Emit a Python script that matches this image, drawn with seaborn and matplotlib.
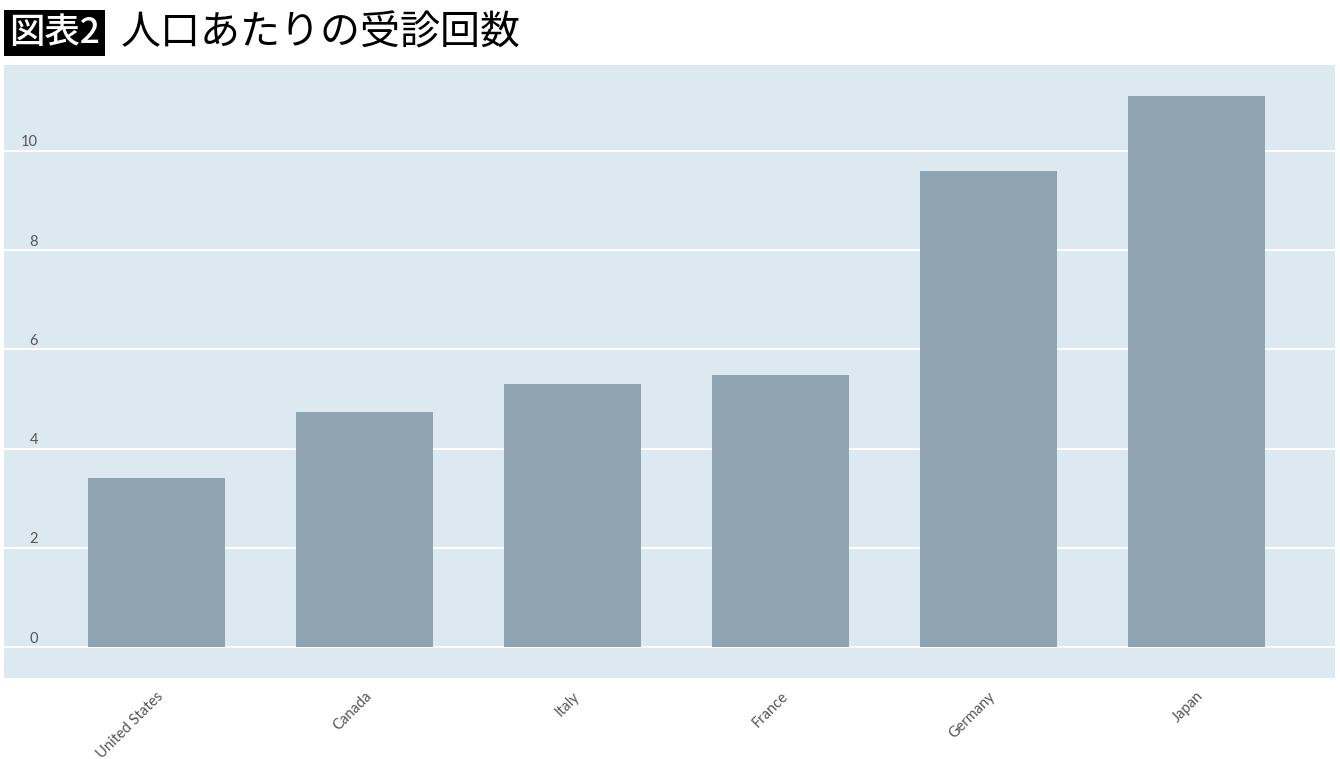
"""
Doctor visits per capita - bar chart recreation
"""

import pandas as pd
import matplotlib
matplotlib.use("Agg")
import matplotlib.pyplot as plt
import matplotlib.transforms as mtransforms
import seaborn as sns


# ---------------------------------------------------------------------------
# Data
# ---------------------------------------------------------------------------

countries = ["United States", "Canada", "Italy", "France", "Germany", "Japan"]
visits = [3.4, 4.74, 5.3, 5.48, 9.6, 11.1]
y_ticks = [0, 2, 4, 6, 8, 10]

badge_text = "図表2"
title_text = "人口あたりの受診回数"

BG = "#dde9f1"
BAR = "#8fa4b1"


# ---------------------------------------------------------------------------
# Plot
# ---------------------------------------------------------------------------

def main() -> None:
    df = pd.DataFrame({"country": countries, "visits": visits})

    sns.set_style("white")
    plt.rcParams["font.family"] = ["Lato", "Noto Sans CJK JP", "DejaVu Sans"]

    fig = plt.figure(figsize=(13.4, 7.59), dpi=100)
    ax = fig.add_axes([0.003, 0.1067, 0.9933, 0.8077])
    ax.set_facecolor(BG)

    sns.barplot(data=df, x="country", y="visits", color=BAR, saturation=1,
                width=0.66, edgecolor="none", linewidth=0, ax=ax, zorder=3)

    ax.set_xlim(-0.733, 5.666)
    ax.set_ylim(-0.625, 11.73)
    ax.set_yticks(y_ticks)
    ax.set_yticklabels([str(t) for t in y_ticks])
    ax.grid(axis="y", color="white", linewidth=1.5, zorder=1)
    ax.set_axisbelow(True)
    for s in ax.spines.values():
        s.set_visible(False)

    ax.set_xlabel("")
    ax.set_ylabel("")

    ax.tick_params(axis="y", length=0, pad=-24.5, labelsize=10.5, labelcolor="#555555")
    ax.tick_params(axis="x", length=0, pad=8, labelsize=10.5, labelcolor="#555555")
    offset = mtransforms.ScaledTranslation(0, 1 / 72, fig.dpi_scale_trans)
    for lbl in ax.get_yticklabels():
        lbl.set_verticalalignment("bottom")
        lbl.set_transform(lbl.get_transform() + offset)
    for lbl in ax.get_xticklabels():
        lbl.set_rotation(45)
        lbl.set_ha("right")
        lbl.set_rotation_mode("anchor")

    # title with black badge
    fig.text(0.0065, 0.956, badge_text, color="white", fontsize=25.5,
             family=["Noto Sans CJK JP"], weight="medium", va="center",
             bbox=dict(facecolor="black", edgecolor="none", pad=3.5))
    fig.text(0.090, 0.956, title_text, color="black", fontsize=28.8,
             family=["Noto Sans CJK JP"], va="center")

    fig.savefig("out.png", dpi=100, facecolor="white")


if __name__ == "__main__":
    main()
